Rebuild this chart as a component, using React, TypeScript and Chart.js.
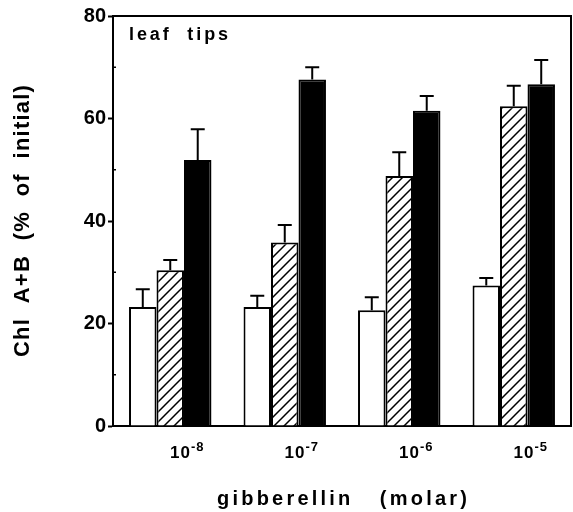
import React, { useEffect, useRef } from "react";
import { Chart, registerables } from "chart.js";

Chart.register(...registerables);

// ---- data ----
const exponents = ["-8", "-7", "-6", "-5"];
const categories = exponents.map((e) => "10" + e);
const whiteValues = [23.2, 23.2, 22.6, 27.4];
const whiteErrors = [3.5, 2.2, 2.5, 1.5];
const hatchedValues = [30.4, 35.8, 48.8, 62.4];
const hatchedErrors = [2.0, 3.4, 4.6, 4.0];
const blackValues = [51.9, 67.6, 61.5, 66.7];
const blackErrors = [6.0, 2.4, 2.9, 4.7];
const yTicks = [0, 20, 40, 60, 80];
const yMinorTicks = [10, 30, 50, 70];
const yTitle = "Chl  A+B  (%  of  initial)";
const xTitle = "gibberellin   (molar)";
const panelLabel = "leaf  tips";

const FONT = "'Liberation Sans', Arial, Helvetica, sans-serif";
const errorSets = [whiteErrors, hatchedErrors, blackErrors];

function makeHatch(): CanvasPattern | string {
  const c = document.createElement("canvas");
  const s = 10;
  c.width = s;
  c.height = s;
  const g = c.getContext("2d");
  if (!g) return "#fff";
  g.fillStyle = "#fff";
  g.fillRect(0, 0, s, s);
  g.strokeStyle = "#000";
  g.lineWidth = 1.5;
  g.beginPath();
  g.moveTo(-1, s + 1);
  g.lineTo(s + 1, -1);
  g.moveTo(-1, 1);
  g.lineTo(1, -1);
  g.moveTo(s - 1, s + 1);
  g.lineTo(s + 1, s - 1);
  g.stroke();
  const p = g.createPattern(c, "repeat");
  return p || "#fff";
}

function spacedText(ctx: CanvasRenderingContext2D, text: string, cx: number, cy: number, target: number) {
  (ctx as any).letterSpacing = "0px";
  const w = ctx.measureText(text).width;
  const n = text.length - 1;
  const ls = Math.max(0, (target - w) / n);
  (ctx as any).letterSpacing = ls.toFixed(2) + "px";
  ctx.textAlign = "left";
  ctx.fillText(text, cx - (w + ls * n) / 2, cy);
  (ctx as any).letterSpacing = "0px";
}

const decorPlugin = {
  id: "decor",
  afterDatasetsDraw(chart: any) {
    const ctx: CanvasRenderingContext2D = chart.ctx;
    const ys = chart.scales.y;
    ctx.save();
    ctx.strokeStyle = "#000";
    ctx.lineWidth = 2;
    chart.data.datasets.forEach((ds: any, d: number) => {
      const meta = chart.getDatasetMeta(d);
      meta.data.forEach((el: any, i: number) => {
        const v = ds.data[i];
        const e = errorSets[d][i];
        const top = ys.getPixelForValue(v + e);
        ctx.beginPath();
        ctx.moveTo(el.x, el.y);
        ctx.lineTo(el.x, top);
        ctx.moveTo(el.x - 7, top);
        ctx.lineTo(el.x + 7, top);
        ctx.stroke();
      });
    });
    ctx.restore();
  },
  afterDraw(chart: any) {
    const ctx: CanvasRenderingContext2D = chart.ctx;
    const area = chart.chartArea;
    const xs = chart.scales.x;
    const ys = chart.scales.y;
    ctx.save();
    ctx.strokeStyle = "#000";
    ctx.lineWidth = 2;
    // frame top and right
    ctx.beginPath();
    ctx.moveTo(area.left, area.top);
    ctx.lineTo(area.right, area.top);
    ctx.lineTo(area.right, area.bottom);
    ctx.stroke();
    // minor inward ticks
    ctx.lineWidth = 1.5;
    yMinorTicks.forEach((v) => {
      const py = ys.getPixelForValue(v);
      ctx.beginPath();
      ctx.moveTo(area.left, py);
      ctx.lineTo(area.left + 3, py);
      ctx.stroke();
    });

    ctx.fillStyle = "#000";
    ctx.textBaseline = "alphabetic";
    // x tick labels with superscripts
    exponents.forEach((exp, i) => {
      const px = xs.getPixelForValue(i) + 17;
      ctx.font = `bold 17px ${FONT}`;
      (ctx as any).letterSpacing = "1px";
      const w1 = ctx.measureText("10").width;
      ctx.font = `bold 13px ${FONT}`;
      const w2 = ctx.measureText(exp).width;
      const start = px - (w1 + w2) / 2;
      ctx.textAlign = "left";
      ctx.font = `bold 17px ${FONT}`;
      ctx.fillText("10", start, area.bottom + 32);
      ctx.font = `bold 13px ${FONT}`;
      ctx.fillText(exp, start + w1, area.bottom + 25);
      (ctx as any).letterSpacing = "0px";
    });

    // x title
    ctx.font = `bold 20px ${FONT}`;
    spacedText(ctx, xTitle, (area.left + area.right) / 2, 505, 250);

    // y title
    ctx.save();
    ctx.translate(23, (area.top + area.bottom) / 2);
    ctx.rotate(-Math.PI / 2);
    ctx.font = `bold 22px ${FONT}`;
    ctx.textBaseline = "middle";
    spacedText(ctx, yTitle, 0, 0, 272);
    ctx.restore();

    // panel label
    ctx.font = `bold 18px ${FONT}`;
    ctx.textBaseline = "alphabetic";
    spacedText(ctx, panelLabel, area.left + 16 + 99 / 2, area.top + 24, 99);
    ctx.restore();
  },
};

export default function App() {
  const ref = useRef<HTMLCanvasElement | null>(null);
  useEffect(() => {
    const canvas = ref.current;
    if (!canvas) return;
    const hatch = makeHatch();
    const chart = new Chart(canvas, {
      type: "bar",
      data: {
        labels: categories,
        datasets: [
          { label: "white", data: whiteValues, backgroundColor: "#ffffff", borderColor: "#000", borderWidth: 2 },
          { label: "hatched", data: hatchedValues, backgroundColor: hatch as any, borderColor: "#000", borderWidth: 2 },
          { label: "black", data: blackValues, backgroundColor: "#000000", borderColor: "#000", borderWidth: 2 },
        ],
      },
      options: {
        animation: false,
        responsive: false,
        devicePixelRatio: 1,
        layout: { padding: { top: 16, right: 2, left: 0, bottom: 0 } },
        datasets: { bar: { categoryPercentage: 0.72, barPercentage: 1.0 } },
        plugins: { legend: { display: false }, tooltip: { enabled: false }, title: { display: false } },
        scales: {
          x: {
            afterFit: (s: any) => {
              s.height = 86;
            },
            ticks: { display: false },
            grid: { display: false, drawTicks: false },
            border: { display: true, color: "#000", width: 2 },
          },
          y: {
            min: 0,
            max: 80,
            afterFit: (s: any) => {
              s.width = 113;
            },
            afterBuildTicks: (s: any) => {
              s.ticks = yTicks.map((v) => ({ value: v }));
            },
            ticks: { color: "#000", font: { family: FONT, size: 20, weight: "bold" }, padding: 2 },
            grid: { drawOnChartArea: false, tickLength: 5, tickWidth: 2, tickColor: "#000" },
            border: { display: true, color: "#000", width: 2 },
          },
        },
      },
      plugins: [decorPlugin],
    });
    return () => chart.destroy();
  }, []);
  return (
    <div style={{ position: "fixed", left: 0, top: 0, width: 573, height: 512, background: "#fff" }}>
      <canvas ref={ref} width={573} height={512} style={{ display: "block" }} />
    </div>
  );
}
